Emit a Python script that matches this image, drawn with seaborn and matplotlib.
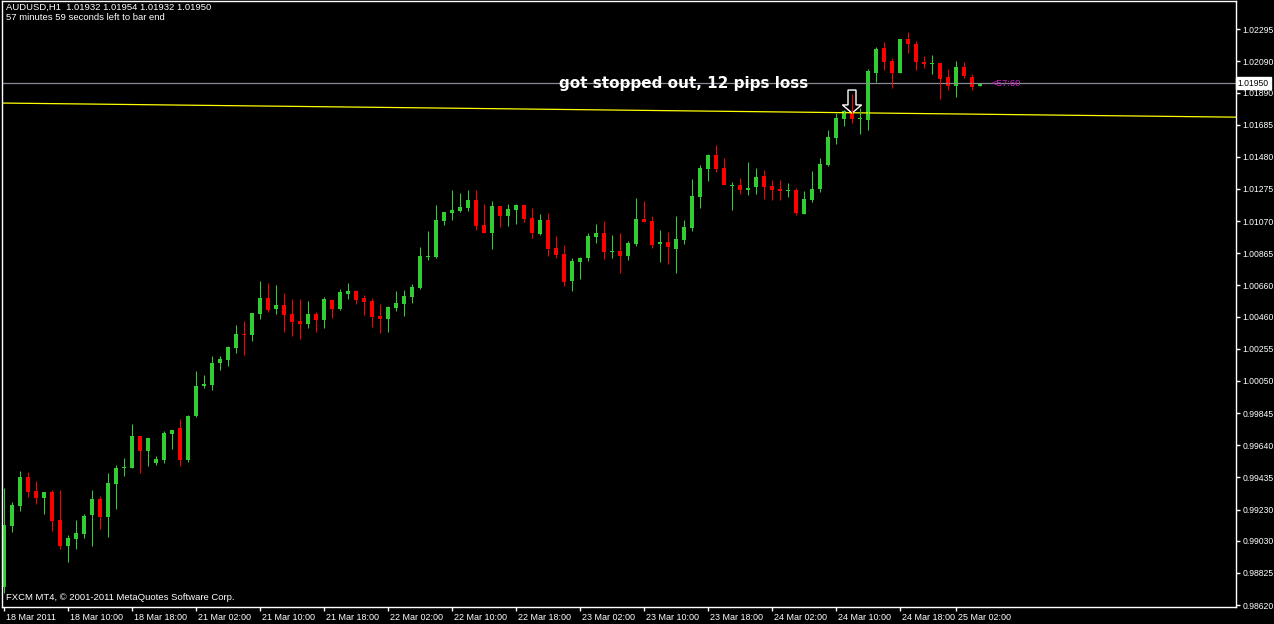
import pandas as pd
import seaborn as sns
import matplotlib.pyplot as plt
import matplotlib.transforms as mtransforms
from matplotlib.patches import FancyArrow

# AUDUSD H1 candles, 18 Mar 2011 00:00 -> 25 Mar 2011
opens = [0.98735, 0.99124, 0.99252, 0.99436, 0.99348, 0.99303, 0.99341, 0.99162, 0.98997, 0.99042,
         0.99073, 0.99194, 0.99297, 0.99181, 0.99392, 0.99494, 0.99494, 0.99699, 0.99603, 0.99526,
         0.99545, 0.99711, 0.99749, 0.99545, 0.99826, 1.00018, 1.00024, 1.00164, 1.00183, 1.00260,
         1.00349, 1.00343, 1.00476, 1.00579, 1.00509, 1.00534, 1.00476, 1.00432, 1.00412, 1.00476,
         1.00438, 1.00566, 1.00509, 1.00604, 1.00624, 1.00579, 1.00560, 1.00464, 1.00445, 1.00515,
         1.00540, 1.00585, 1.00643, 1.00840, 1.00840, 1.01070, 1.01121, 1.01134, 1.01153, 1.01204,
         1.01044, 1.00994, 1.01166, 1.01102, 1.01140, 1.01172, 1.01089, 1.00987, 1.01076, 1.00898,
         1.00859, 1.00688, 1.00808, 1.00834, 1.00968, 1.00994, 1.00872, 1.00879, 1.00847, 1.00923,
         1.01083, 1.01070, 1.00923, 1.00936, 1.00892, 1.00949, 1.01025, 1.01223, 1.01402, 1.01491,
         1.01408, 1.01294, 1.01300, 1.01268, 1.01287, 1.01357, 1.01294, 1.01275, 1.01262, 1.01268,
         1.01114, 1.01204, 1.01275, 1.01427, 1.01600, 1.01721, 1.01765, 1.01721, 1.01714, 1.02014,
         1.02174, 1.02091, 1.02014, 1.02232, 1.02199, 1.02084, 1.02071, 1.02078, 1.01988, 1.01932,
         1.02052, 1.01988, 1.01932]
highs = [0.99367, 0.99277, 0.99475, 0.99468, 0.99412, 0.99341, 0.99354, 0.99354, 0.99067, 0.99162,
         0.99200, 0.99354, 0.99316, 0.99462, 0.99513, 0.99558, 0.99774, 0.99699, 0.99686, 0.99571,
         0.99731, 0.99737, 0.99807, 0.99832, 1.00113, 1.00087, 1.00209, 1.00209, 1.00273, 1.00406,
         1.00432, 1.00483, 1.00688, 1.00675, 1.00662, 1.00611, 1.00573, 1.00573, 1.00560, 1.00489,
         1.00585, 1.00573, 1.00637, 1.00675, 1.00630, 1.00598, 1.00579, 1.00540, 1.00528, 1.00624,
         1.00630, 1.00668, 1.00904, 1.01007, 1.01172, 1.01127, 1.01268, 1.01249, 1.01268, 1.01268,
         1.01178, 1.01198, 1.01166, 1.01178, 1.01178, 1.01178, 1.01153, 1.01114, 1.01121, 1.00975,
         1.00917, 1.00834, 1.00840, 1.00994, 1.01050, 1.01070, 1.00981, 1.00994, 1.00943, 1.01217,
         1.01198, 1.01102, 1.01013, 1.01000, 1.01102, 1.01076, 1.01338, 1.01427, 1.01497, 1.01555,
         1.01472, 1.01319, 1.01344, 1.01446, 1.01408, 1.01395, 1.01332, 1.01332, 1.01313, 1.01281,
         1.01262, 1.01389, 1.01472, 1.01651, 1.01759, 1.01778, 1.01880, 1.01791, 1.02040, 1.02180,
         1.02212, 1.02110, 1.02232, 1.02276, 1.02219, 1.02123, 1.02129, 1.02078, 1.02040, 1.02091,
         1.02084, 1.02007, 1.01954]
lows = [0.98697, 0.99086, 0.99220, 0.99309, 0.99264, 0.99200, 0.99093, 0.98978, 0.98894, 0.98978,
        0.99048, 0.98997, 0.99105, 0.99054, 0.99233, 0.99443, 0.99494, 0.99462, 0.99507, 0.99513,
        0.99526, 0.99616, 0.99507, 0.99532, 0.99819, 1.00005, 0.99992, 1.00119, 1.00145, 1.00228,
        1.00215, 1.00305, 1.00445, 1.00489, 1.00476, 1.00362, 1.00337, 1.00318, 1.00387, 1.00362,
        1.00387, 1.00451, 1.00502, 1.00573, 1.00540, 1.00470, 1.00393, 1.00356, 1.00362, 1.00496,
        1.00464, 1.00547, 1.00637, 1.00821, 1.00834, 1.01044, 1.01076, 1.01127, 1.01134, 1.01013,
        1.00994, 1.00892, 1.01031, 1.01038, 1.01050, 1.01063, 1.00962, 1.00981, 1.00847, 1.00834,
        1.00656, 1.00624, 1.00700, 1.00815, 1.00930, 1.00828, 1.00834, 1.00738, 1.00821, 1.00911,
        1.01063, 1.00898, 1.00808, 1.00795, 1.00738, 1.00923, 1.01007, 1.01153, 1.01326, 1.01382,
        1.01300, 1.01140, 1.01242, 1.01236, 1.01242, 1.01211, 1.01204, 1.01204, 1.01223, 1.01108,
        1.01114, 1.01191, 1.01255, 1.01421, 1.01561, 1.01676, 1.01695, 1.01625, 1.01651, 1.01957,
        1.02033, 1.01919, 1.02014, 1.02142, 1.02033, 1.02046, 1.02007, 1.01849, 1.01906, 1.01861,
        1.01982, 1.01906, 1.01932]
closes = [0.99130, 0.99258, 0.99436, 0.99341, 0.99303, 0.99341, 0.99156, 0.98997, 0.99048, 0.99080,
          0.99188, 0.99297, 0.99181, 0.99399, 0.99494, 0.99500, 0.99699, 0.99603, 0.99686, 0.99552,
          0.99718, 0.99737, 0.99545, 0.99826, 1.00018, 1.00030, 1.00164, 1.00190, 1.00266, 1.00349,
          1.00343, 1.00483, 1.00579, 1.00502, 1.00534, 1.00470, 1.00425, 1.00412, 1.00476, 1.00438,
          1.00573, 1.00509, 1.00617, 1.00624, 1.00566, 1.00553, 1.00457, 1.00445, 1.00521, 1.00547,
          1.00592, 1.00649, 1.00847, 1.00847, 1.01076, 1.01127, 1.01140, 1.01159, 1.01204, 1.01038,
          1.00994, 1.01166, 1.01102, 1.01147, 1.01172, 1.01083, 1.00994, 1.01076, 1.00892, 1.00853,
          1.00681, 1.00815, 1.00834, 1.00975, 1.00994, 1.00872, 1.00879, 1.00847, 1.00930, 1.01083,
          1.01063, 1.00917, 1.00936, 1.00904, 1.00956, 1.01031, 1.01230, 1.01408, 1.01491, 1.01402,
          1.01300, 1.01300, 1.01268, 1.01281, 1.01350, 1.01287, 1.01268, 1.01262, 1.01268, 1.01121,
          1.01211, 1.01275, 1.01433, 1.01606, 1.01727, 1.01772, 1.01721, 1.01727, 1.02027, 1.02168,
          1.02084, 1.02014, 1.02232, 1.02199, 1.02084, 1.02071, 1.02078, 1.01976, 1.01932, 1.02052,
          1.01995, 1.01925, 1.01950]

price_ticks = [1.02295, 1.02090, 1.01890, 1.01685, 1.01480, 1.01275, 1.01070, 1.00865, 1.00660, 1.00460,
               1.00255, 1.00050, 0.99845, 0.99640, 0.99435, 0.99230, 0.99030, 0.98825, 0.98620]
time_tick_bars = [0, 8, 16, 24, 32, 40, 48, 56, 64, 72, 80, 88, 96, 104, 112, 119]
time_tick_labels = ["18 Mar 2011", "18 Mar 10:00", "18 Mar 18:00", "21 Mar 02:00", "21 Mar 10:00",
                    "21 Mar 18:00", "22 Mar 02:00", "22 Mar 10:00", "22 Mar 18:00", "23 Mar 02:00",
                    "23 Mar 10:00", "23 Mar 18:00", "24 Mar 02:00", "24 Mar 10:00", "24 Mar 18:00",
                    "25 Mar 02:00"]

# yellow trendline anchors (bar index, price) and current bid
trend_bars = [-0.25, 154]
trend_prices = [1.01823, 1.01733]
bid = 1.01950
sell_bar = 106
sell_price = 1.01759

df = pd.DataFrame({"open": opens, "high": highs, "low": lows, "close": closes})
df["bar"] = range(len(df))
df["up"] = df["close"] >= df["open"]
df["color"] = df["up"].map({True: "#32cd32", False: "#ff0000"})

sns.set_theme(style="dark", rc={"axes.facecolor": "black", "figure.facecolor": "black",
                                "axes.edgecolor": "white", "axes.grid": False})
plt.rcParams["font.family"] = ["Liberation Sans", "DejaVu Sans"]

fig = plt.figure(figsize=(12.74, 6.24), dpi=100)
ax = fig.add_axes([2 / 1274, 17 / 624, 1234 / 1274, 606 / 624])
ax.set_xlim(-0.25, 154)
ax.set_ylim(0.98608, 1.02474)

# trendline + bid line
sns.lineplot(x=trend_bars, y=trend_prices, color="#ffff00", linewidth=0.9, ax=ax)
ax.axhline(bid, color="#8a8a96", linewidth=0.9)

# candles
ax.vlines(df["bar"], df["low"], df["high"], colors=df["color"], linewidth=0.75)
body = (df["close"] - df["open"]).abs().clip(lower=0.00007)
ax.bar(df["bar"], body, bottom=df[["open", "close"]].min(axis=1), width=0.62,
       color=df["color"], linewidth=0)

# sell arrow
ax.add_patch(FancyArrow(sell_bar, sell_price + 0.00147, 0, -0.00147, width=1.0, head_width=2.4,
                        head_length=0.00052, length_includes_head=True,
                        facecolor="none", edgecolor="white", linewidth=1.0))

ax.text(84.9, bid, "got stopped out, 12 pips loss", color="white", fontsize=11,
        fontweight="bold", family="DejaVu Sans", ha="center", va="center")
ax.text(len(df) + 0.4, bid, "<57:60", color="#d028d0", fontsize=6.8, ha="left", va="center")

ax.text(0.003, 0.997, "AUDUSD,H1  1.01932 1.01954 1.01932 1.01950\n57 minutes 59 seconds left to bar end",
        transform=ax.transAxes, color="white", fontsize=6.8, ha="left", va="top", linespacing=1.15)
ax.text(0.003, 0.008, "FXCM MT4, \u00a9 2001-2011 MetaQuotes Software Corp.",
        transform=ax.transAxes, color="white", fontsize=6.8, ha="left", va="bottom")

# axes
ax.yaxis.tick_right()
ax.set_yticks(price_ticks, [f"{p:.5f}" for p in price_ticks])
ax.set_xticks(time_tick_bars, time_tick_labels)
ax.tick_params(axis="y", colors="white", length=3, width=1, labelsize=6.2, pad=1.5, right=True, left=False)
ax.tick_params(axis="x", colors="white", length=3, width=1, labelsize=6.5, pad=1, bottom=True)
for lbl in ax.get_xticklabels():
    lbl.set_horizontalalignment("left")
    lbl.set_transform(lbl.get_transform() + mtransforms.ScaledTranslation(2 / 100, 0, fig.dpi_scale_trans))
for s in ax.spines.values():
    s.set_color("white")
    s.set_linewidth(1)
ax.set_xlabel("")
ax.set_ylabel("")

bt = mtransforms.blended_transform_factory(ax.transAxes, ax.transData)
ax.text(1.0015, bid, "1.01950", transform=bt, color="black", fontsize=6.2, ha="left", va="center",
        bbox=dict(facecolor="white", edgecolor="white", pad=1.2), zorder=5, clip_on=False)

fig.savefig("out.png", dpi=100, facecolor="black")
